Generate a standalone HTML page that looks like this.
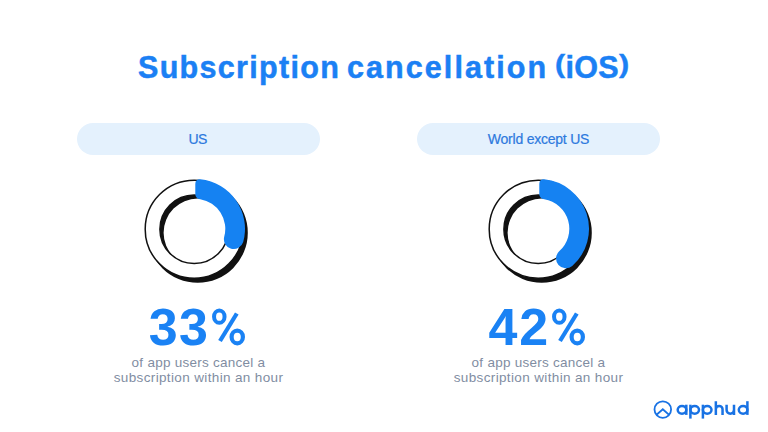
<!DOCTYPE html>
<html><head><meta charset="utf-8">
<style>
html,body{margin:0;padding:0;background:#fff;}
body{width:768px;height:432px;position:relative;overflow:hidden;font-family:"Liberation Sans",sans-serif;}
.abs{position:absolute;white-space:nowrap;}
.title{top:47.3px;font-weight:bold;font-size:30.5px;color:#1b80f4;line-height:40px;-webkit-text-stroke:0.5px #1b80f4;}
.par{display:inline-block;transform:scaleY(0.84);transform-origin:50% 0px;}
.pill{top:123px;height:32px;width:243px;border-radius:16px;background:#e4f1fd;color:#2d79de;font-size:14px;line-height:32px;text-align:center;-webkit-text-stroke:0.2px #2d79de;}
.dg{font-weight:bold;font-size:52px;line-height:60px;color:#1a82f4;top:296.8px;}
.sub{width:243px;text-align:center;font-size:13.5px;line-height:15.6px;color:#818da2;top:354.8px;}
svg{position:absolute;left:0;top:0;}
</style></head>
<body>
<div class="abs title" style="left:138px;letter-spacing:1.31px">Subscription</div>
<div class="abs title" style="left:347px;letter-spacing:2.07px">cancellation</div>
<div class="abs title" style="left:555px;letter-spacing:0.3px"><span class="par">(</span>iOS<span class="par">)</span></div>
<div class="abs pill" style="left:77px;letter-spacing:-0.6px;text-indent:-1.8px">US</div>
<div class="abs pill" style="left:417px;letter-spacing:-0.23px">World except US</div>
<div class="abs dg" style="left:148.7px">3</div>
<div class="abs dg" style="left:179.1px">3</div>
<div class="abs dg" style="left:488.6px">4</div>
<div class="abs dg" style="left:519.15px">2</div>
<div class="abs sub" style="left:77px;"><span style="letter-spacing:0.26px">of app users cancel a</span><br><span style="letter-spacing:0.36px">subscription within an hour</span></div>
<div class="abs sub" style="left:417px;"><span style="letter-spacing:0.26px">of app users cancel a</span><br><span style="letter-spacing:0.36px">subscription within an hour</span></div>
<svg width="768" height="432" viewBox="0 0 768 432">
<g transform="translate(194.2,229.2)"><path d="M-50.1 0a50.1 50.1 0 1 0 100.2 0a50.1 50.1 0 1 0 -100.2 0ZM-34.1 0a34.1 34.1 0 1 0 68.2 0a34.1 34.1 0 1 0 -68.2 0Z" transform="translate(3.5,3.5)" fill="#111" fill-rule="evenodd"/><path d="M-49.0 0a49.0 49.0 0 1 0 98.0 0a49.0 49.0 0 1 0 -98.0 0ZM-34.3 0a34.3 34.3 0 1 0 68.6 0a34.3 34.3 0 1 0 -68.6 0Z" fill="#fff" stroke="#111" stroke-width="1.5" fill-rule="evenodd"/><path d="M1.10 -45.10Q1.10 -50.10 6.09 -49.85A49.7 49.7 0 0 1 48.99 12.88A9.850000000000001 9.850000000000001 0 0 1 30.01 7.62A30.0 30.0 0 0 0 6.08 -29.98Q1.10 -30.40 1.10 -35.40Z" fill="#1582f2"/></g><g transform="translate(538.2,229.2)"><path d="M-50.1 0a50.1 50.1 0 1 0 100.2 0a50.1 50.1 0 1 0 -100.2 0ZM-34.1 0a34.1 34.1 0 1 0 68.2 0a34.1 34.1 0 1 0 -68.2 0Z" transform="translate(3.5,3.5)" fill="#111" fill-rule="evenodd"/><path d="M-49.0 0a49.0 49.0 0 1 0 98.0 0a49.0 49.0 0 1 0 -98.0 0ZM-34.3 0a34.3 34.3 0 1 0 68.6 0a34.3 34.3 0 1 0 -68.6 0Z" fill="#fff" stroke="#111" stroke-width="1.5" fill-rule="evenodd"/><path d="M1.10 -45.10Q1.10 -50.10 6.09 -49.85A49.7 49.7 0 0 1 34.03 36.82A9.850000000000001 9.850000000000001 0 0 1 20.98 22.07A30.0 30.0 0 0 0 6.08 -29.98Q1.10 -30.40 1.10 -35.40Z" fill="#1582f2"/></g><g transform="translate(0,0)" fill="none" stroke="#1a82f4"><ellipse cx="219.3" cy="316.65" rx="5.25" ry="6.15" stroke-width="4.0"/><ellipse cx="237.25" cy="336.95" rx="5.65" ry="6.35" stroke-width="4.2"/><line x1="220" y1="341" x2="236.8" y2="313.5" stroke-width="4.2"/></g><g transform="translate(340,0)" fill="none" stroke="#1a82f4"><ellipse cx="219.3" cy="316.65" rx="5.25" ry="6.15" stroke-width="4.0"/><ellipse cx="237.25" cy="336.95" rx="5.65" ry="6.35" stroke-width="4.2"/><line x1="220" y1="341" x2="236.8" y2="313.5" stroke-width="4.2"/></g><g fill="none" stroke="#1872e4" stroke-width="2.5"><circle cx="662.8" cy="409.6" r="8.3" stroke-width="1.8"/><clipPath id="lc"><circle cx="662.8" cy="409.6" r="8.5"/></clipPath><path d="M654.5 416.6L662.8 409.3L671.1 416.6" stroke-width="1.85" clip-path="url(#lc)"/><ellipse cx="682.0" cy="409.79999999999995" rx="4.2999999999999945" ry="3.8499999999999943"/><path d="M686.3 404.7V414.9"/><ellipse cx="694.6999999999999" cy="409.79999999999995" rx="4.2999999999999945" ry="3.8499999999999943"/><path d="M690.4 404.7V418.6"/><ellipse cx="707.1999999999999" cy="409.79999999999995" rx="4.2999999999999945" ry="3.8499999999999943"/><path d="M702.9 404.7V418.6"/><path d="M715.85 401.2V414.9M715.85 409.29999999999995A3.349999999999966 3.349999999999966 0 0 1 722.55 409.29999999999995V414.9"/><path d="M726.6 404.7V409.95A3.6999999999999886 3.6999999999999886 0 0 0 734.0 409.95M734.0 404.7V414.9"/><ellipse cx="743.1" cy="409.79999999999995" rx="4.2999999999999945" ry="3.8499999999999943"/><path d="M747.4 401.2V414.9"/></g>
</svg>
</body></html>
